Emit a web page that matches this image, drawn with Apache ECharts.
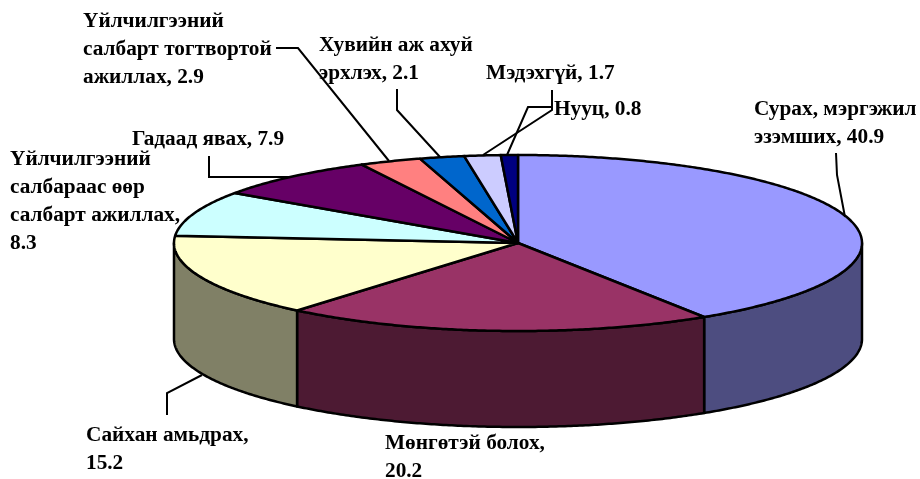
<!DOCTYPE html>
<html>
<head>
<meta charset="utf-8">
<style>html,body{margin:0;padding:0;background:#fff}#c{width:920px;height:479px}</style>
<script src="https://cdn.jsdelivr.net/npm/echarts@6/dist/echarts.min.js"></script>
</head>
<body>
<div id="c"></div>
<script>
// Data
const categories = ["Сурах, мэргэжил эзэмших","Мөнгөтэй болох","Сайхан амьдрах","Үйлчилгээний салбараас өөр салбарт ажиллах","Гадаад явах","Үйлчилгээний салбарт тогтвортой ажиллах","Хувийн аж ахуй эрхлэх","Мэдэхгүй","Нууц"];
const values = [40.9,20.2,15.2,8.3,7.9,2.9,2.1,1.7,0.8];
const labelLines = [
  ["Сурах, мэргэжил","эзэмших, {v}"],
  ["Мөнгөтэй болох,","{v}"],
  ["Сайхан амьдрах,","{v}"],
  ["Үйлчилгээний","салбараас өөр","салбарт ажиллах,","{v}"],
  ["Гадаад явах, {v}"],
  ["Үйлчилгээний","салбарт тогтвортой","ажиллах, {v}"],
  ["Хувийн аж ахуй","эрхлэх, {v}"],
  ["Мэдэхгүй, {v}"],
  ["Нууц, {v}"]
];
// Styles
const topColors = ["#9999FF","#993366","#FFFFCC","#CCFFFF","#660066","#FF8080","#0066CC","#CCCCFF","#000080"];
const sideColors = ["#4D4D80","#4D1A33","#808066","#668080","#330033","#804040","#003366","#666680","#000040"];
// Layout
const pie = {cx:518, cy:243, rx:344, ry:88, depth:96};
const labelPos = [[754,95],[385,429],[86,421],[10,145],[132,125],[83,7],[319,31],[486,59],[554,95]];
const leaders = [
  [[836,153],[837,175],[845,217]],
  null,
  [[167,415],[167,393],[202,375]],
  null,
  [[209,156],[209,177],[290,177]],
  [[276,48],[298,48],[389,161]],
  [[397,89],[397,110],[440,157]],
  [[552,90],[552,110],[483,155]],
  [[552,107],[528,107],[507,155]]
];
const total = values.reduce((a,b)=>a+b,0);
const starts = [];
values.reduce((acc,v,i)=>{starts[i]=acc;return acc+v;},0);
const ang = v => v/total*360;
function pt(deg,dy){const r=deg*Math.PI/180;return [pie.cx+pie.rx*Math.sin(r),pie.cy-pie.ry*Math.cos(r)+(dy||0)];}
function arc(a0,a1,dy){const pts=[];const n=Math.max(2,Math.ceil((a1-a0)*2));for(let i=0;i<=n;i++)pts.push(pt(a0+(a1-a0)*i/n,dy));return pts;}
const data = values.map(v=>[v]);
function renderSide(params,api){
  const i=params.dataIndex, a0=Math.max(ang(starts[i]),90), a1=Math.min(ang(starts[i])+ang(api.value(0)),270);
  if(a1<=a0) return null;
  const points=arc(a0,a1,0).concat(arc(a0,a1,pie.depth).reverse());
  return {type:'polygon',shape:{points},style:{fill:sideColors[i],stroke:'#000',lineWidth:2.5,lineJoin:'round'},silent:true};
}
function renderTop(params,api){
  const i=params.dataIndex, a0=ang(starts[i]), a1=a0+ang(api.value(0));
  const points=[[pie.cx,pie.cy]].concat(arc(a0,a1,0));
  return {type:'polygon',shape:{points},style:{fill:topColors[i],stroke:'#000',lineWidth:2.5,lineJoin:'round'},silent:true};
}
function renderLabel(params,api){
  const i=params.dataIndex, children=[];
  if(leaders[i]) children.push({type:'polyline',shape:{points:leaders[i]},style:{fill:null,stroke:'#000',lineWidth:2},silent:true});
  children.push({type:'text',x:labelPos[i][0],y:labelPos[i][1],silent:true,style:{
    text:labelLines[i].join("\n").replace("{v}",values[i].toFixed(1)),
    fontFamily:'"Liberation Serif"',fontWeight:'bold',fontSize:21.3,lineHeight:28,fill:'#000',align:'left',verticalAlign:'top'}});
  return {type:'group',children};
}
const chart = echarts.init(document.getElementById('c'),null,{renderer:'canvas'});
chart.setOption({
  animation:false,
  backgroundColor:'#fff',
  tooltip:{show:false},
  series:[
    {type:'custom',name:'side',coordinateSystem:'none',data,renderItem:renderSide,z:1},
    {type:'custom',name:'top',coordinateSystem:'none',data,renderItem:renderTop,z:2},
    {type:'custom',name:'labels',coordinateSystem:'none',data,renderItem:renderLabel,z:3}
  ]
});
</script>
</body>
</html>
